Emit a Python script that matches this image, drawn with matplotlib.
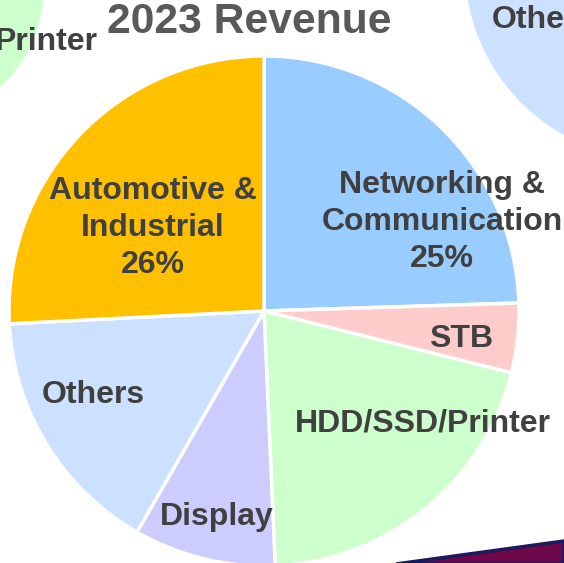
import matplotlib
matplotlib.use("Agg")
import matplotlib.pyplot as plt
from matplotlib.patches import Circle, Polygon

plt.rcParams['font.family'] = ['Liberation Sans', 'DejaVu Sans']

# ---- data ----
categories = ["Networking &\nCommunication", "STB", "HDD/SSD/Printer",
              "Display", "Others", "Automotive &\nIndustrial"]
values = [24.5, 4.4, 20.4, 9.0, 15.9, 25.8]
pct_labels = ["25%", "", "", "", "", "26%"]
colors = ["#99CCFF", "#FFCCCC", "#CCFFCC", "#CCCCFF", "#CCE0FF", "#FFC000"]
title = "2023 Revenue"

# ---- layout (pixel coordinates, y measured from the top) ----
W, H = 564, 563
cx, cy, r = 264, 311, 255
label_pos = [(442, 222), (461, 339), (423, 424), (217, 517), (93, 395), (153, 228)]

fig = plt.figure(figsize=(W / 100, H / 100), dpi=100)
fig.patch.set_facecolor("white")
ax = fig.add_axes([0, 0, 1, 1])

def Y(y):
    return H - y

# decorative neighbours (partially visible charts of the slide)
ax.add_patch(Circle((-95, Y(-14)), 139, facecolor="#CCFFCC", edgecolor="none", zorder=0))
ax.add_patch(Circle((657, Y(-33)), 192, facecolor="#CCE0FF", edgecolor="none", zorder=0))
ax.add_patch(Polygon([(396, Y(564)), (564, Y(541)), (564, Y(564))], closed=True,
                     facecolor="#6E0848", edgecolor="#1C1A5E", linewidth=2.5, zorder=0))

ax.pie(values, colors=colors, startangle=90, counterclock=False,
       center=(cx, Y(cy)), radius=r,
       wedgeprops=dict(edgecolor="white", linewidth=2.5))

txt_color = "#404040"
fs = 23
for name, pct, (x, y) in zip(categories, pct_labels, label_pos):
    s = name + ("\n" + pct if pct else "")
    ax.text(x, Y(y), s, ha="center", va="center", multialignment="center",
            fontsize=fs, fontweight="bold", color=txt_color, linespacing=1.3, zorder=5)

ax.text(98, Y(50), "Printer", ha="right", va="baseline", fontsize=fs,
        fontweight="bold", color=txt_color, zorder=5)
ax.text(492, Y(28), "Others", ha="left", va="baseline", fontsize=fs,
        fontweight="bold", color=txt_color, zorder=5)

ax.text(249, Y(33), title, ha="center", va="baseline", fontsize=30.7,
        fontweight="bold", color="#595959", zorder=5)

ax.set_xlim(0, W)
ax.set_ylim(0, H)
ax.set_aspect("equal")
ax.axis("off")

fig.savefig("out.png", dpi=100, facecolor="white")
